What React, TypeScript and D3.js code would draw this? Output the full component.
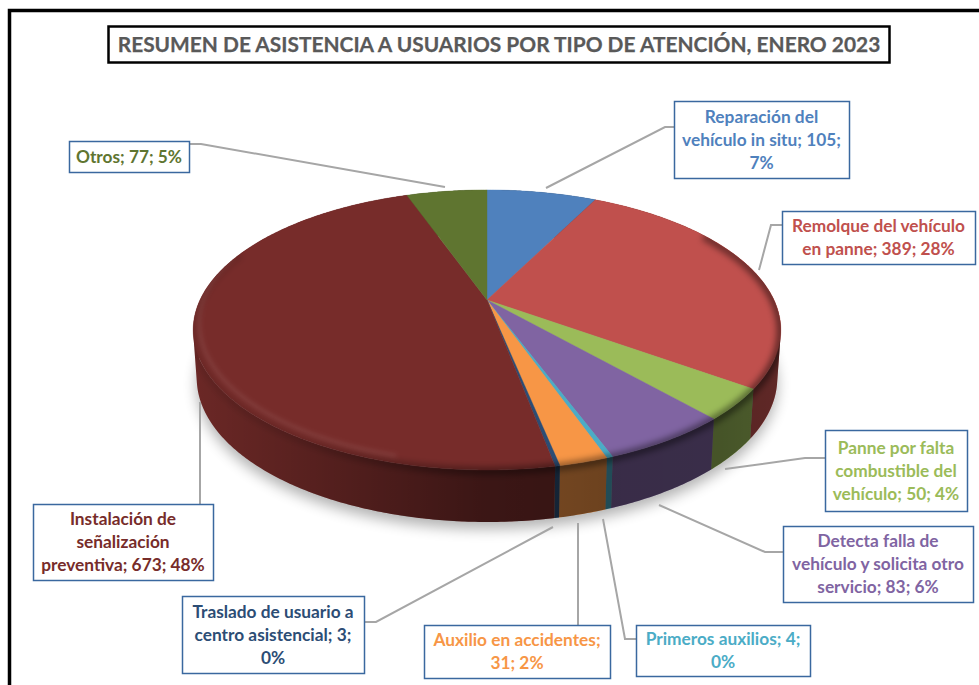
import React from "react";
import * as d3 from "d3";

const categories = [
  "Reparación del vehículo in situ",
  "Remolque del vehículo en panne",
  "Panne por falta combustible del vehículo",
  "Detecta falla de vehículo y solicita otro servicio",
  "Primeros auxilios",
  "Auxilio en accidentes",
  "Traslado de usuario a centro asistencial",
  "Instalación de señalización preventiva",
  "Otros",
];
const values = [105, 389, 50, 83, 4, 31, 3, 673, 77];
const colors = ["#4f81bd", "#c0504d", "#9bbb59", "#8064a2", "#4bacc6", "#f79646", "#2c4d75", "#772c2a", "#5f7530"];
const labelLines = [
  ["Reparación del", "vehículo in situ; 105;", "7%"],
  ["Remolque del vehículo", "en panne; 389; 28%"],
  ["Panne por falta", "combustible del", "vehículo; 50; 4%"],
  ["Detecta falla de", "vehículo y solicita otro", "servicio; 83; 6%"],
  ["Primeros auxilios; 4;", "0%"],
  ["Auxilio en accidentes;", "31; 2%"],
  ["Traslado de usuario a", "centro asistencial; 3;", "0%"],
  ["Instalación de", "señalización", "preventiva; 673; 48%"],
  ["Otros; 77; 5%"],
];
const title = "RESUMEN DE ASISTENCIA A USUARIOS POR TIPO DE ATENCIÓN, ENERO 2023";

// label box layout: x0, y0, x1, y1
const boxes = [
  [674, 101, 849, 178],
  [782, 211, 975, 264],
  [825, 430, 967, 511],
  [783, 526, 973, 602],
  [636, 625, 810, 676],
  [424, 625, 610, 678],
  [182, 596, 364, 673],
  [33, 504, 213, 580],
  [69, 141, 189, 172],
];
const leaders = [
  [[546, 188], [665, 127], [674, 127]],
  [[759, 270], [771, 225], [782, 225]],
  [[725, 469], [805, 458], [825, 458]],
  [[659, 505], [765, 552], [783, 552]],
  [[603, 519], [625, 639], [636, 639]],
  [[578, 523], [578, 625]],
  [[553, 527], [376, 622], [364, 622]],
  [[200, 402], [200, 504]],
  [[445, 187], [201, 144], [189, 144]],
];

// perspective projection of the pie disc
const CX = 487, CY = 300, A = 287, B = 133.6, K = 0.214;
const project = (t: number): [number, number] => {
  const u = Math.sin(t), v = Math.cos(t), d = 1 + K * v;
  return [CX + (A * u) / d, CY - (B * v) / d];
};
const lower = (t: number): [number, number] => {
  const [x, y] = project(t);
  return [CX + (x - CX) * 0.988, 378 + (y - 330) * (144 / 140)];
};
const sample = (a: number, b: number, f: (t: number) => [number, number]) => {
  const n = Math.max(2, Math.ceil((b - a) / 0.01));
  return d3.range(n + 1).map((i) => f(a + ((b - a) * i) / n));
};
const line = d3.line();
const arcs = d3.pie<number>().sort(null)(values);
const TAU = Math.PI * 2;
// The wall is the union of small quads, each one normalised through its hull so winding never cancels.
const wallPath = (a: number, b: number) => {
  const up = sample(a, b, project), lo = sample(a, b, lower);
  return d3.range(up.length - 1)
    .map((i) => {
      const hull = d3.polygonHull([up[i], up[i + 1], lo[i + 1], lo[i]]);
      return hull ? line(hull) + "Z" : "";
    })
    .join("");
};
const facePath = (a: number, b: number) =>
  line([[CX, CY], ...sample(a, b, project)]) + "Z";
const nearA = 1.0, nearB = 5.1;
const wallStops: [number, number][] = [
  [0, 0.1], [0.18, 0.25], [0.49, 0.5], [0.7, 0.56], [0.9, 0.55], [1, 0.5],
];
const rimStops: [number, number][] = [
  [0, 0.1], [0.18, 0.14], [0.49, 0.36], [0.7, 0.42], [0.93, 0.45], [1, 0.5],
];

export default function App() {
  const wallAll = wallPath(0, TAU);
  return (
    <svg width={979} height={685} style={{ position: "absolute", left: 0, top: 0, display: "block", background: "#fff" }}>
      <defs>
        <filter id="sh" x="-20%" y="-20%" width="140%" height="140%"><feGaussianBlur stdDeviation="7" /></filter>
        <filter id="rim" filterUnits="userSpaceOnUse" x={150} y={150} width={680} height={400}><feGaussianBlur stdDeviation="3.4" /></filter>
        <filter id="hl" filterUnits="userSpaceOnUse" x={150} y={150} width={680} height={400}><feGaussianBlur stdDeviation="2" /></filter>
        <linearGradient id="wallShade" gradientUnits="userSpaceOnUse" x1={193} x2={781} y1={0} y2={0}>
          {wallStops.map(([o, a]) => <stop key={o} offset={o} stopColor="#000" stopOpacity={a} />)}
        </linearGradient>
        <linearGradient id="rimShade" gradientUnits="userSpaceOnUse" x1={193} x2={781} y1={0} y2={0}>
          {rimStops.map(([o, a]) => <stop key={o} offset={o} stopColor="#000" stopOpacity={a} />)}
        </linearGradient>
        <clipPath id="sil">
          <path d={wallAll} />
          <path d={facePath(0, TAU)} />
        </clipPath>
      </defs>

      {/* outer frame, open on right and bottom */}
      <path d="M9.5 685V10.5H979" fill="none" stroke="#000" strokeWidth={3.5} />

      {/* title */}
      <rect x={108.5} y={26.5} width={781} height={36} fill="#fff" stroke="#000" strokeWidth={2.5} />
      <text x={499} y={52} textAnchor="middle" fontFamily="Lato" fontWeight={700} fontSize={20.9} fill="#595959" stroke="#595959" strokeWidth={0.25}>{title}</text>

      {/* drop shadow */}
      <path d={line(sample(0, TAU, lower)) + "Z"} fill="#000" opacity={0.3} filter="url(#sh)" transform="translate(0,7)" />

      {/* side walls */}
      {arcs.map((d, i) => <path key={i} d={wallPath(d.startAngle, d.endAngle)} fill={colors[i]} />)}
      <path d={wallAll} fill="url(#wallShade)" />

      {/* top face */}
      {arcs.map((d, i) => <path key={i} d={facePath(d.startAngle, d.endAngle)} fill={colors[i]} stroke={colors[i]} strokeWidth={0.4} />)}

      {/* bevel between face and wall */}
      <g clipPath="url(#sil)">
        <path d={line(sample(nearA, nearB, (t) => { const [x, y] = project(t); return [x, y + 1]; })) as string} fill="none" stroke="url(#rimShade)" strokeWidth={8} filter="url(#rim)" />
        <path d={line(sample(3.4, 5.0, (t) => { const [x, y] = project(t); return [CX + (x - CX) * 0.98, y - 7]; })) as string} fill="none" stroke="#fff" strokeOpacity={0.08} strokeWidth={4} filter="url(#hl)" />
      </g>

      {/* leader lines */}
      {leaders.map((l, i) => <path key={i} d={line(l as [number, number][]) as string} fill="none" stroke="#a6a6a6" strokeWidth={2} />)}

      {/* data labels */}
      {boxes.map(([x0, y0, x1, y1], i) => {
        const lines = labelLines[i];
        const cx = (x0 + x1) / 2, cy = (y0 + y1) / 2, lh = 23;
        return (
          <g key={categories[i]}>
            <rect x={x0 + 0.5} y={y0 + 0.5} width={x1 - x0} height={y1 - y0} fill="#fff" stroke="#3a689f" strokeWidth={1.5} />
            <text textAnchor="middle" fontFamily="Lato" fontWeight={700} fontSize={17.3} fill={colors[i]}>
              {lines.map((s, j) => (
                <tspan key={j} x={cx} y={cy + (j - (lines.length - 1) / 2) * lh + 6}>{s}</tspan>
              ))}
            </text>
          </g>
        );
      })}
    </svg>
  );
}
